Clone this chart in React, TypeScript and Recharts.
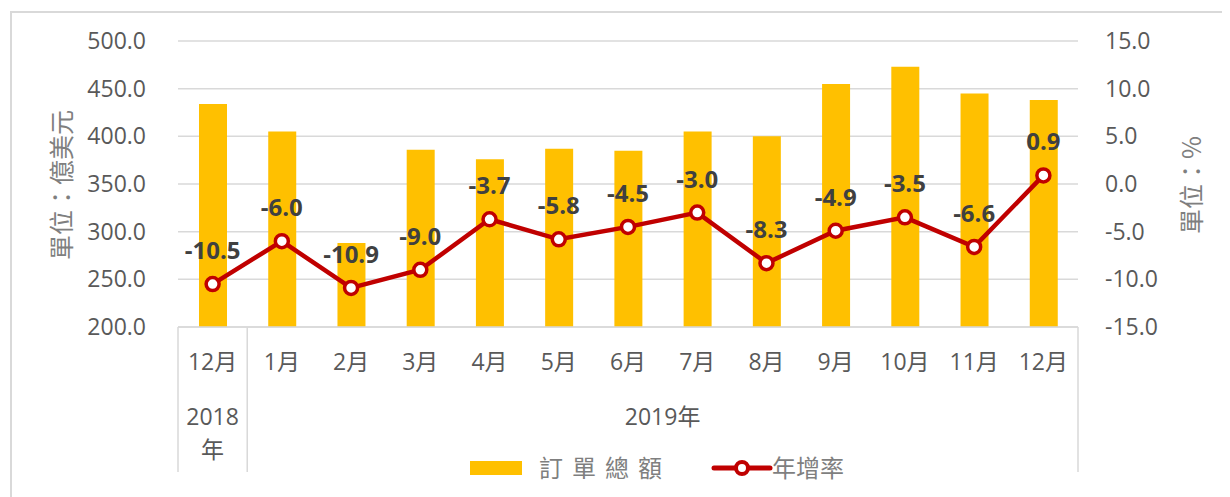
import {
  ComposedChart,
  Bar,
  Line,
  XAxis,
  YAxis,
  CartesianGrid,
  Legend,
  LabelList,
  Label,
} from 'recharts'

const months = ['12月', '1月', '2月', '3月', '4月', '5月', '6月', '7月', '8月', '9月', '10月', '11月', '12月']
const orderTotals = [434, 405, 288, 386, 376, 387, 385, 405, 400, 455, 473, 445, 438]
const yoyGrowth = [-10.5, -6.0, -10.9, -9.0, -3.7, -5.8, -4.5, -3.0, -8.3, -4.9, -3.5, -6.6, 0.9]
const leftTicks = [200, 250, 300, 350, 400, 450, 500]
const rightTicks = [-15, -10, -5, 0, 5, 10, 15]
const year2018 = ['2018', '年']
const year2019 = '2019年'

const FONT = "'Open Sans', 'Noto Sans CJK TC', sans-serif"
const CJK = "'Noto Sans CJK TC', sans-serif"
const W = 1222
const H = 489
const LEFT_W = 170
const RIGHT_W = 152
const PLOT_W = W - LEFT_W - RIGHT_W
const BAND = PLOT_W / months.length
const GRID = '#d9d9d9'

const data = months.map((m, i) => ({
  month: m,
  total: orderTotals[i],
  growth: yoyGrowth[i],
}))

function MonthTick({ x, y, payload, index }: any) {
  const sep = (sx: number) => (
    <line x1={sx} y1={y} x2={sx} y2={y + 145} stroke={GRID} strokeWidth={1.5} />
  )
  return (
    <g>
      <text x={x} y={y + 34} textAnchor="middle" dominantBaseline="central" fill="#595959" fontSize={23} fontFamily={FONT}>
        {payload.value}
      </text>
      {index === 0 && sep(x - BAND / 2)}
      {index === 0 && sep(x + BAND / 2)}
      {index === months.length - 1 && sep(x + BAND / 2)}
      {index === 0 &&
        year2018.map((t, k) => (
          <text key={k} x={x} y={y + 89 + k * 33} textAnchor="middle" dominantBaseline="central" fill="#595959" fontSize={23} fontFamily={FONT}>
            {t}
          </text>
        ))}
      {index === 6 && (
        <text x={x + BAND / 2} y={y + 89} textAnchor="middle" dominantBaseline="central" fill="#595959" fontSize={23} fontFamily={FONT}>
          {year2019}
        </text>
      )}
    </g>
  )
}

function AxisTitle({ viewBox, value, dx }: any) {
  const cx = viewBox.x + dx
  const cy = viewBox.y + viewBox.height / 2 + 1
  return (
    <text
      x={cx}
      y={cy}
      transform={`rotate(-90, ${cx}, ${cy})`}
      textAnchor="middle"
      dominantBaseline="central"
      fill="#7f7f7f"
      fontSize={25}
      fontFamily={CJK}
    >
      {value}
    </text>
  )
}

function ChartLegend() {
  const txt = { position: 'absolute' as const, top: 0, lineHeight: '30px', fontSize: 24, color: '#7f7f7f', fontFamily: CJK }
  return (
    <div style={{ position: 'relative', height: 30, width: W }}>
      <div style={{ position: 'absolute', left: 462, top: 9, width: 52, height: 14, background: '#FFC000' }} />
      <span style={{ ...txt, left: 531, letterSpacing: 9 }}>訂單總額</span>
      <svg style={{ position: 'absolute', left: 703, top: 5 }} width={62} height={20}>
        <line x1={3} y1={11} x2={59} y2={11} stroke="#C00000" strokeWidth={5} strokeLinecap="round" />
        <circle cx={31} cy={11} r={6} fill="#fff" stroke="#C00000" strokeWidth={4} />
      </svg>
      <span style={{ ...txt, left: 764 }}>年增率</span>
    </div>
  )
}

export default function App() {
  return (
    <div style={{ position: 'relative', width: W, height: H, overflow: 'hidden' }}>
      <div
        style={{
          position: 'absolute',
          left: 2,
          top: 3,
          width: W + 20,
          height: H + 20,
          border: `2px solid ${GRID}`,
          boxSizing: 'border-box',
        }}
      />
      <ComposedChart
        width={W}
        height={H}
        data={data}
        margin={{ top: 33, right: 0, left: 0, bottom: 110 }}
        barSize={28}
      >
        <CartesianGrid yAxisId="left" vertical={false} stroke={GRID} strokeWidth={1.5} />
        <XAxis
          dataKey="month"
          height={30}
          tickSize={0}
          tickMargin={0}
          interval={0}
          axisLine={{ stroke: GRID, strokeWidth: 1.5 }}
          tick={<MonthTick />}
        />
        <YAxis
          yAxisId="left"
          width={LEFT_W}
          domain={[200, 500]}
          ticks={leftTicks}
          tickFormatter={(v) => v.toFixed(1)}
          axisLine={false}
          tickLine={false}
          tickSize={0}
          tickMargin={32}
          tick={{ fill: '#595959', fontSize: 23, fontFamily: FONT }}
        >
          <Label content={<AxisTitle value="單位：億美元" dx={52} />} />
        </YAxis>
        <YAxis
          yAxisId="right"
          orientation="right"
          width={RIGHT_W}
          domain={[-15, 15]}
          ticks={rightTicks}
          tickFormatter={(v) => v.toFixed(1)}
          axisLine={false}
          tickLine={false}
          tickSize={0}
          tickMargin={27}
          tick={{ fill: '#595959', fontSize: 23, fontFamily: FONT, textAnchor: 'start' }}
        >
          <Label content={<AxisTitle value="單位：%" dx={112} />} />
        </YAxis>
        <Legend
          verticalAlign="bottom"
          content={<ChartLegend />}
          wrapperStyle={{ top: 444, left: 0, bottom: 'auto', width: W, height: 30 }}
        />
        <Bar yAxisId="left" dataKey="total" name="訂單總額" fill="#FFC000" isAnimationActive={false} />
        <Line
          yAxisId="right"
          dataKey="growth"
          name="年增率"
          stroke="#C00000"
          strokeWidth={4.5}
          dot={{ r: 6.5, fill: '#fff', stroke: '#C00000', strokeWidth: 3.5 }}
          activeDot={false}
          isAnimationActive={false}
        >
          <LabelList
            dataKey="growth"
            position="top"
            offset={25}
            formatter={(v: any) => Number(v).toFixed(1)}
            fill="#404040"
            fontSize={24}
            fontWeight="bold"
            fontFamily={FONT}
          />
        </Line>
      </ComposedChart>
    </div>
  )
}
